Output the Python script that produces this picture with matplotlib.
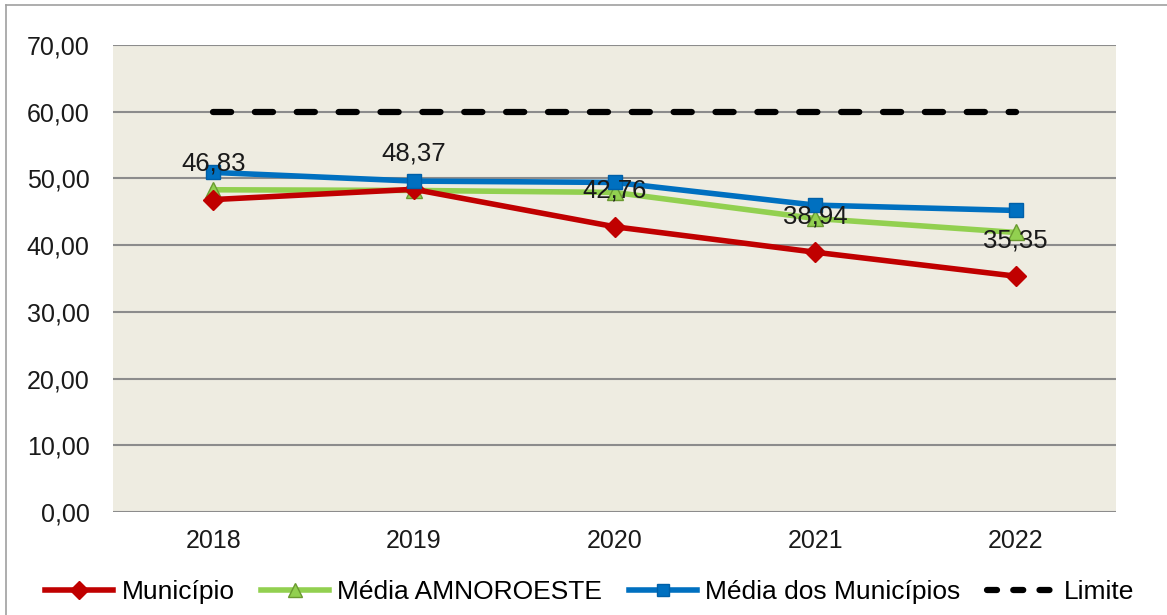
import matplotlib
matplotlib.use("Agg")
import matplotlib.pyplot as plt
from matplotlib.lines import Line2D
from matplotlib.ticker import FuncFormatter

plt.rcParams['font.family'] = ['Liberation Sans', 'DejaVu Sans']

years = ["2018", "2019", "2020", "2021", "2022"]
municipio = [46.83, 48.37, 42.76, 38.94, 35.35]
media_amnoroeste = [48.3, 48.2, 47.9, 44.0, 41.9]
media_municipios = [50.9, 49.6, 49.4, 46.0, 45.2]
limite = [60, 60, 60, 60, 60]
yticks = [0, 10, 20, 30, 40, 50, 60, 70]

fig = plt.figure(figsize=(11.67, 6.15), dpi=100)
ax = fig.add_axes([113/1167, 1 - 512/615, (1116-113)/1167, (512-45)/615])
ax.set_facecolor('#EEECE1')

dash = (0, (2.9, 3.8))
x = list(range(len(years)))
ax.plot(x, limite, color='black', lw=4.5, ls=dash, dash_capstyle='round', zorder=3)
ax.plot(x, municipio, color='#C00000', lw=4, marker='D', ms=10, mfc='#C00000', mec='#C00000', zorder=5)
ax.plot(x, media_amnoroeste, color='#92D050', lw=4, marker='^', ms=11, mfc='#92D050', mec='#6A9A30', zorder=4)
ax.plot(x, media_municipios, color='#0070C0', lw=4, marker='s', ms=10, mfc='#0070C0', mec='#0060A8', zorder=6)

for xi, v in zip(x, municipio):
    ax.annotate(f"{v:.2f}".replace('.', ','), (xi, v), xytext=(0, 26), textcoords='offset points',
                ha='center', va='center', fontsize=18.5, color='#1a1a1a', zorder=7)

ax.set_xlim(-0.5, len(years) - 0.5)
ax.set_ylim(0, 70)
ax.set_yticks(yticks)
ax.yaxis.set_major_formatter(FuncFormatter(lambda v, p: f"{v:.2f}".replace('.', ',')))
ax.set_xticks(x)
ax.set_xticklabels(years)
ax.tick_params(axis='both', length=0, labelsize=18, colors='#1a1a1a')
ax.tick_params(axis='y', pad=17)
ax.tick_params(axis='x', pad=12)
ax.grid(axis='y', color='#8C8C8C', lw=1.5)
ax.set_axisbelow(True)
for s in ax.spines.values():
    s.set_visible(False)

handles = [
    Line2D([], [], color='#C00000', lw=4, marker='D', ms=9, mfc='#C00000', mec='#C00000'),
    Line2D([], [], color='#92D050', lw=4, marker='^', ms=10, mfc='#92D050', mec='#6A9A30'),
    Line2D([], [], color='#0070C0', lw=4, marker='s', ms=9, mfc='#0070C0', mec='#0060A8'),
    Line2D([], [], color='black', lw=4.5, ls=(0, (1.6, 2.6)), dash_capstyle='round'),
]
labels = ["Município", "Média AMNOROESTE", "Média dos Municípios", "Limite"]
fig.legend(handles, labels, loc='center', bbox_to_anchor=(0.505, 1 - 592/615), ncol=4, frameon=False,
           fontsize=19, handlelength=2.6, handletextpad=0.3, columnspacing=1.0)

# outer border fragments
fig.add_artist(Line2D([6/1167, 6/1167], [0, 1 - 5/615], transform=fig.transFigure, color='#A0A0A0', lw=1.2))
fig.add_artist(Line2D([6/1167, 1], [1 - 5/615, 1 - 5/615], transform=fig.transFigure, color='#A0A0A0', lw=1.2))

fig.savefig('out.png', dpi=100)
